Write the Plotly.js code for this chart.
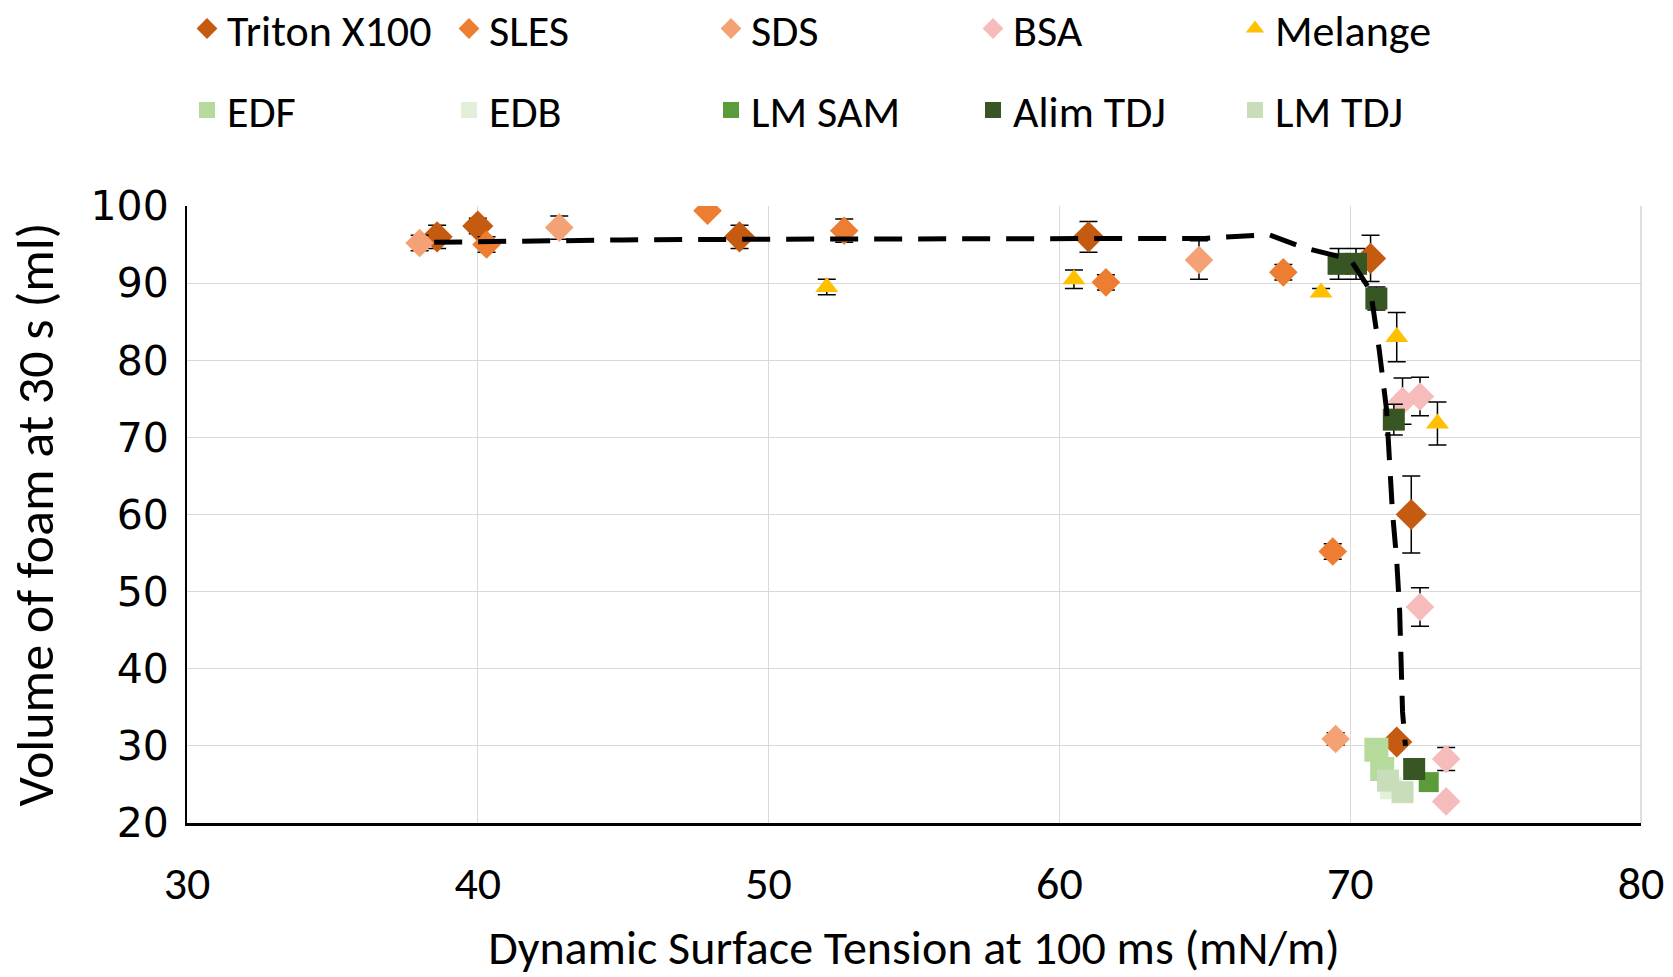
<!DOCTYPE html>
<html>
<head>
<meta charset="utf-8">
<script src="https://cdn.plot.ly/plotly-3.0.1.min.js"></script>
<style>
html,body{margin:0;padding:0;background:#fff;}
#chart{width:1673px;height:977px;}
</style>
</head>
<body>
<div id="chart"></div>
<script>
// ---- data ----
const tritonX = [38.6, 40.0, 49.0, 61.0, 70.7, 72.1, 71.6];
const tritonY = [96.0, 97.4, 96.0, 96.0, 93.2, 60.0, 30.5];
const tritonE = [1.5, 1.0, 1.5, 2.0, 3.0, 5.0, 0.0];

const slesX = [40.3, 47.9, 52.6, 61.6, 67.7, 69.4];
const slesY = [95.0, 99.4, 96.8, 90.1, 91.4, 55.2];
const slesE = [1.0, 0.0, 1.5, 1.0, 1.0, 1.0];

const sdsX = [38.0, 42.8, 64.8, 69.5];
const sdsY = [95.2, 97.2, 93.0, 30.9];
const sdsE = [1.0, 1.5, 2.5, 0.8];

const bsaX = [71.8, 72.4, 72.4, 73.3, 73.3];
const bsaY = [74.7, 75.3, 48.0, 28.3, 22.8];
const bsaE = [3.0, 2.5, 2.5, 1.5, 0.5];

const melX = [52.0, 60.5, 69.0, 71.6, 73.0];
const melY = [89.5, 90.5, 88.8, 83.0, 71.8];
const melE = [1.0, 1.2, 0.5, 3.2, 2.8];

const edfX = [70.9, 71.1];
const edfY = [29.5, 27.0];
const edbX = [71.4];
const edbY = [24.5];
const lmsamX = [72.7];
const lmsamY = [25.3];
const alimX = [69.6, 70.2, 70.9, 71.5, 72.2];
const alimY = [92.5, 92.5, 88.0, 72.3, 27.0];
const alimE = [2.0, 2.0, 1.5, 2.0, 0.0];
const lmtdjX = [71.3, 71.8];
const lmtdjY = [25.5, 24.0];

// trend line (black dashed)
const trendX = [38.5, 40, 45, 50, 55, 60, 65, 67.2, 68.4, 70.0, 70.7, 71.0, 71.25, 71.45, 71.6, 71.7, 71.8, 71.9];
const trendY = [95.3, 95.4, 95.6, 95.7, 95.7, 95.8, 95.8, 96.3, 94.6, 93.1, 89.0, 81.3, 73.6, 60.5, 54.0, 47.5, 34.4, 30.0];

const xTicks = [30, 40, 50, 60, 70, 80];
const yTicks = [20, 30, 40, 50, 60, 70, 80, 90, 100];

// ---- drawing ----
const FONT = "Carlito, Calibri, 'Open Sans', sans-serif";
const YTICKFONT = "'DejaVu Sans', Verdana, sans-serif";
function eb(arr){ return {type:'data', array:arr, visible:true, color:'#000', thickness:1.5, width:9}; }
function sc(name, x, y, color, symbol, size, err, legend){
  const t = {type:'scatter', mode:'markers', name:name, x:x, y:y,
    marker:{color:color, symbol:symbol, size:size}, legend:legend};
  if(err) t.error_y = eb(err);
  return t;
}
const traces = [
  sc('Triton X100', tritonX, tritonY, '#C55A11', 'diamond', 24, tritonE, 'legend'),
  sc('SLES', slesX, slesY, '#ED7D31', 'diamond', 22, slesE, 'legend'),
  sc('SDS', sdsX, sdsY, '#F4A275', 'diamond', 22, sdsE, 'legend'),
  sc('BSA', bsaX, bsaY, '#F6BCBC', 'diamond', 22, bsaE, 'legend'),
  sc('Melange', melX, melY, '#FFC000', 'triangle-up', 20, melE, 'legend'),
  sc('EDF', edfX, edfY, '#B5DA9B', 'square', 24, null, 'legend2'),
  sc('EDB', edbX, edbY, '#E2F0D9', 'square', 22, null, 'legend2'),
  sc('LM SAM', lmsamX, lmsamY, '#5B9B3A', 'square', 20, null, 'legend2'),
  sc('Alim TDJ', alimX, alimY, '#375623', 'square', 22, alimE, 'legend2'),
  sc('LM TDJ', lmtdjX, lmtdjY, '#CADDBA', 'square', 22, null, 'legend2'),
  {type:'scatter', mode:'lines', x:trendX, y:trendY, showlegend:false,
   line:{color:'#000', width:5, dash:'28px,16px'}, hoverinfo:'skip'}
];

const legendCommon = {orientation:'h', xanchor:'left', yanchor:'middle', x:0.0,
  entrywidth:217, entrywidthmode:'pixels', font:{family:FONT, size:44, color:'#000'},
  bgcolor:'rgba(0,0,0,0)', itemclick:false};

const layout = {
  width:1673, height:977,
  margin:{l:187, r:32, t:206, b:154, autoexpand:false},
  paper_bgcolor:'#fff', plot_bgcolor:'#fff',
  font:{family:FONT, color:'#000'},
  showlegend:true,
  legend:Object.assign({}, legendCommon, {y:1.287}),
  legend2:Object.assign({}, legendCommon, {y:1.155}),
  xaxis:{range:[30,80], tickvals:xTicks, ticktext:xTicks.map(String),
    showgrid:true, gridcolor:'#D9D9D9', gridwidth:1,
    showline:true, linecolor:'#000', linewidth:3, zeroline:false, ticks:'',
    tickfont:{family:FONT, size:46, color:'#000'}, ticklabelstandoff:18,
    title:{text:'Dynamic Surface Tension at 100 ms (mN/m)', font:{family:FONT, size:48, color:'#000'}, standoff:22}},
  yaxis:{range:[20,100], tickvals:yTicks, ticktext:yTicks.map(String),
    showgrid:true, gridcolor:'#D9D9D9', gridwidth:1,
    showline:true, linecolor:'#000', linewidth:2, zeroline:false, ticks:'',
    tickfont:{family:YTICKFONT, size:41, color:'#000'}, ticklabelstandoff:8,
    title:{text:'Volume of foam at 30 s (ml)', font:{family:FONT, size:52, color:'#000'}, standoff:20}},
  shapes:[{type:'line', xref:'paper', yref:'paper', x0:1, x1:1, y0:0, y1:1,
    line:{color:'#BFBFBF', width:1}}]
};

Plotly.newPlot('chart', traces, layout, {staticPlot:true, displayModeBar:false});
</script>
</body>
</html>
